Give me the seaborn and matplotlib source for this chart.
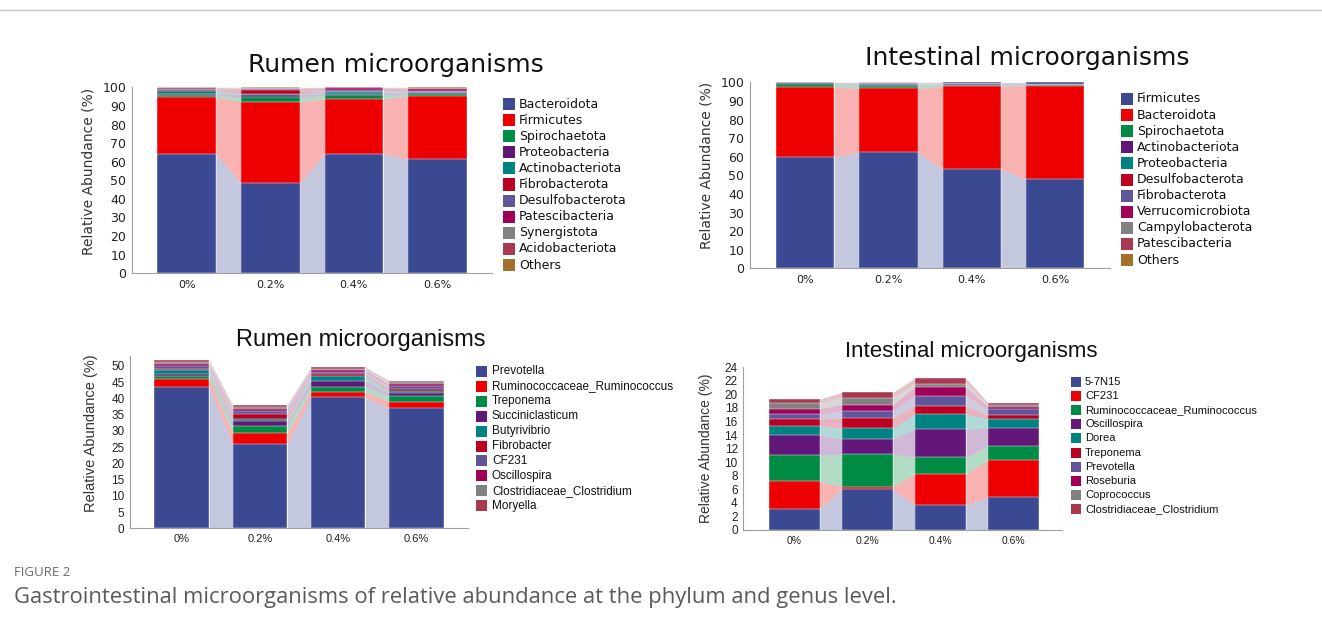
import numpy as np
import matplotlib.pyplot as plt
import matplotlib.patches as mpatches
import matplotlib.lines as mlines
import seaborn as sns

sns.set_theme(style='white')
plt.rcParams['font.family'] = ['DejaVu Sans']

W, H = 1322, 630
groups = ['0%', '0.2%', '0.4%', '0.6%']

colors = ['#3B4992', '#EE0000', '#008B45', '#631879', '#008280', '#BB0021',
          '#5F559B', '#A20056', '#808180', '#A8394F', '#A5712A']

# phylum level, rumen (values per group: 0%, 0.2%, 0.4%, 0.6%)
rumen_phyla = ['Bacteroidota', 'Firmicutes', 'Spirochaetota', 'Proteobacteria',
               'Actinobacteriota', 'Fibrobacterota', 'Desulfobacterota',
               'Patescibacteria', 'Synergistota', 'Acidobacteriota', 'Others']
rumen_phyla_values = [
    [64.2, 48.4, 64.2, 61.3],
    [30.4, 43.9, 29.5, 33.9],
    [1.2, 2.3, 1.9, 1.4],
    [0.8, 1.4, 1.0, 0.5],
    [1.5, 0.6, 0.8, 0.4],
    [0.6, 2.0, 0.3, 0.2],
    [0.5, 0.4, 0.7, 0.3],
    [0.3, 0.3, 1.2, 1.1],
    [0.2, 0.2, 0.2, 0.2],
    [0.1, 0.1, 0.1, 0.3],
    [0.2, 0.4, 0.1, 0.4],
]

# phylum level, intestine
gut_phyla = ['Firmicutes', 'Bacteroidota', 'Spirochaetota', 'Actinobacteriota',
             'Proteobacteria', 'Desulfobacterota', 'Fibrobacterota',
             'Verrucomicrobiota', 'Campylobacterota', 'Patescibacteria', 'Others']
gut_phyla_values = [
    [59.7, 62.4, 53.2, 48.0],
    [37.9, 34.4, 44.6, 50.2],
    [1.5, 1.2, 1.0, 0.1],
    [0.3, 0.3, 0.2, 0.1],
    [0.2, 0.9, 0.2, 0.1],
    [0.1, 0.1, 0.1, 0.1],
    [0.2, 0.1, 0.6, 1.3],
    [0.1, 0.1, 0.1, 0.1],
    [0.0, 0.1, 0.0, 0.0],
    [0.0, 0.1, 0.0, 0.0],
    [0.0, 0.3, 0.0, 0.0],
]

# genus level, rumen
rumen_genera = ['Prevotella', 'Ruminococcaceae_Ruminococcus', 'Treponema',
                'Succiniclasticum', 'Butyrivibrio', 'Fibrobacter', 'CF231',
                'Oscillospira', 'Clostridiaceae_Clostridium', 'Moryella']
rumen_genera_values = [
    [43.6, 25.9, 40.3, 37.0],
    [2.4, 3.6, 1.8, 2.0],
    [0.8, 2.1, 1.5, 1.7],
    [0.6, 1.3, 1.8, 0.9],
    [1.3, 0.7, 1.5, 0.6],
    [0.4, 1.5, 0.5, 0.8],
    [0.8, 1.0, 0.6, 0.8],
    [0.6, 0.7, 0.7, 0.6],
    [0.7, 0.7, 0.5, 0.6],
    [0.5, 0.6, 0.4, 0.5],
]

# genus level, intestine
gut_genera = ['5-7N15', 'CF231', 'Ruminococcaceae_Ruminococcus', 'Oscillospira',
              'Dorea', 'Treponema', 'Prevotella', 'Roseburia', 'Coprococcus',
              'Clostridiaceae_Clostridium']
gut_genera_values = [
    [3.1, 6.0, 3.7, 4.8],
    [4.1, 0.4, 4.6, 5.5],
    [3.8, 4.8, 2.4, 2.1],
    [3.0, 2.2, 4.2, 2.7],
    [1.4, 1.6, 2.2, 1.3],
    [1.0, 1.5, 1.2, 0.5],
    [0.7, 1.1, 1.5, 0.9],
    [0.8, 0.9, 1.3, 0.4],
    [0.9, 1.0, 0.5, 0.3],
    [0.5, 0.8, 0.8, 0.3],
]


def px_axes(left, right, bottom, top):
    return [left / W, 1 - bottom / H, (right - left) / W, (bottom - top) / H]


def draw_panel(ax, values, ymax, yticks, font, xlim, tick_size, xtick_size,
               xpad, label_size, label_y):
    vals = np.array(values)
    tops = vals.cumsum(axis=0)
    bottoms = tops - vals
    w = 0.7
    # stacked bars: draw cumulative totals, top layer first
    for k in range(len(vals) - 1, -1, -1):
        sns.barplot(x=groups, y=tops[k], order=groups, color=colors[k], width=w,
                    saturation=1, errorbar=None, ax=ax, edgecolor='white',
                    linewidth=0.3)
    # flows between neighbouring bars
    for k in range(len(vals)):
        for i in range(len(groups) - 1):
            ax.fill_between([i + w / 2, i + 1 - w / 2],
                            [bottoms[k, i], bottoms[k, i + 1]],
                            [tops[k, i], tops[k, i + 1]],
                            color=colors[k], alpha=0.3, lw=0)
    ax.set_xlim(*xlim)
    ax.set_ylim(0, ymax)
    ax.set_yticks(yticks)
    sns.despine(ax=ax)
    for s in ['left', 'bottom']:
        ax.spines[s].set_color('#a0a0a0')
        ax.spines[s].set_linewidth(0.8)
    ax.tick_params(axis='y', length=3, width=0.8, color='#a0a0a0', pad=1,
                   labelsize=tick_size)
    ax.tick_params(axis='x', length=0, pad=xpad, labelsize=xtick_size)
    for lab in ax.get_xticklabels() + ax.get_yticklabels():
        lab.set_family(font)
        lab.set_color('#222222')
    ax.set_xlabel('')
    ax.set_ylabel('Relative Abundance (%)', fontsize=label_size,
                  family=font, color='#333333')
    ax.yaxis.set_label_coords(-0.1 if font == 'DejaVu Sans' else -0.095, label_y)


def draw_legend(fig, labels, x, y0, dy, size, fontsize, font, text_x):
    for i, lab in enumerate(labels):
        y = y0 + i * dy
        fig.add_artist(mpatches.Rectangle((x / W, 1 - (y + size / 2) / H),
                                          size / W, size / H,
                                          transform=fig.transFigure,
                                          color=colors[i], lw=0))
        fig.text(text_x / W, 1 - y / H, lab, fontsize=fontsize, family=font,
                 va='center', ha='left', color='#111111')


fig = plt.figure(figsize=(W / 100, H / 100), dpi=100)

ax1 = fig.add_axes(px_axes(131.7, 492.5, 273.3, 87.3))
draw_panel(ax1, rumen_phyla_values, 100, range(0, 101, 10), 'DejaVu Sans',
           (-0.656, 3.656), 9, 8, 5, 10, 0.55)
ax2 = fig.add_axes(px_axes(750, 1110, 268.3, 82.3))
draw_panel(ax2, gut_phyla_values, 100, range(0, 101, 10), 'DejaVu Sans',
           (-0.66, 3.66), 9, 8, 5, 10, 0.555)
ax3 = fig.add_axes(px_axes(130, 468, 528.3, 356.2))
draw_panel(ax3, rumen_genera_values, 53, range(0, 51, 5), 'Liberation Sans',
           (-0.661, 3.661), 8.5, 8, 4, 10.5, 0.55)
ax4 = fig.add_axes(px_axes(743.3, 1061.7, 530, 367.3))
draw_panel(ax4, gut_genera_values, 24, range(0, 25, 2), 'Liberation Sans',
           (-0.696, 3.66), 8.5, 7.5, 4, 10, 0.5)

fig.text(396 / W, 1 - 65 / H, 'Rumen microorganisms', fontsize=18,
         ha='center', va='center', color='#111111')
fig.text(1027 / W, 1 - 58 / H, 'Intestinal microorganisms', fontsize=18,
         ha='center', va='center', color='#111111')
fig.text(361 / W, 1 - 340 / H, 'Rumen microorganisms', fontsize=17,
         family='Liberation Sans', ha='center', va='center', color='#111111')
fig.text(971 / W, 1 - 352 / H, 'Intestinal microorganisms', fontsize=16,
         family='Liberation Sans', ha='center', va='center', color='#111111')

draw_legend(fig, rumen_phyla, 503, 104, 16.1, 12, 9, 'DejaVu Sans', 519)
draw_legend(fig, gut_phyla, 1121, 99, 16.1, 12, 9, 'DejaVu Sans', 1137)
draw_legend(fig, rumen_genera, 476, 371.5, 14.9, 11, 8.5, 'Liberation Sans', 492)
draw_legend(fig, gut_genera, 1071, 382, 14.1, 10, 8, 'Liberation Sans', 1085)

# top rule and caption
fig.add_artist(mlines.Line2D([0, 1], [1 - 10 / H, 1 - 10 / H],
                             transform=fig.transFigure, color='#c8c8c8', lw=1))
fig.text(14 / W, 1 - 572 / H, 'FIGURE 2', fontsize=9.5, family='Open Sans',
         va='center', color='#6b6b6b')
fig.text(14 / W, 1 - 598 / H,
         'Gastrointestinal microorganisms of relative abundance at the phylum and genus level.',
         fontsize=15.8, family='Open Sans', va='center', color='#5a5a5a')

fig.savefig('out.png', dpi=100)
